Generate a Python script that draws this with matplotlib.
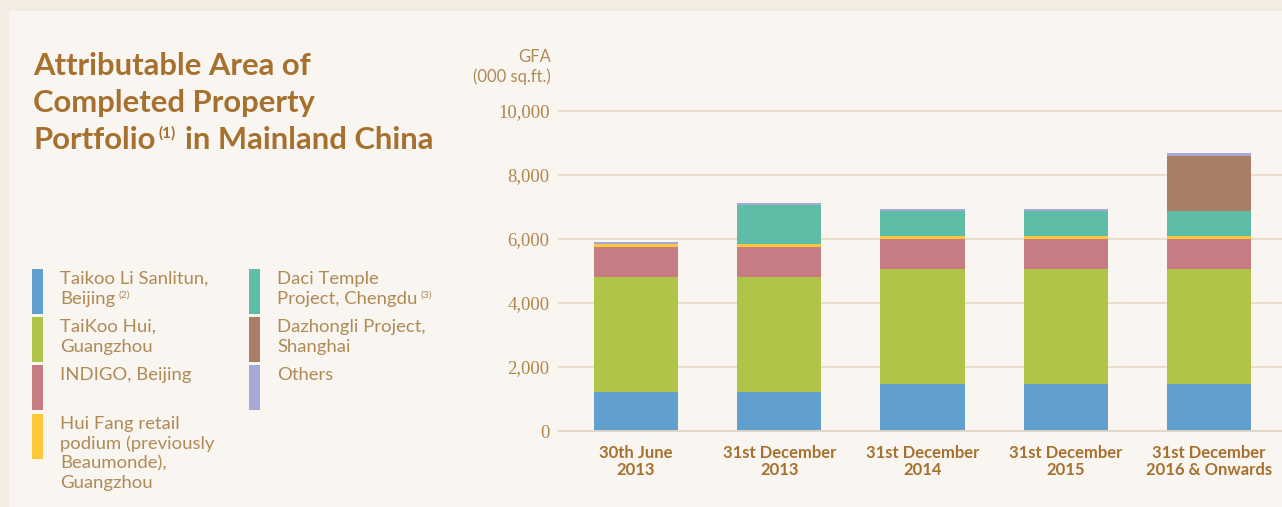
import matplotlib
matplotlib.use("Agg")
import matplotlib.pyplot as plt
from matplotlib.patches import Rectangle

# values in 000 sq.ft.
periods = ["30th June\n2013", "31st December\n2013", "31st December\n2014",
           "31st December\n2015", "31st December\n2016 & Onwards"]
taikoo_li = [1230, 1230, 1470, 1470, 1470]
taikoo_hui = [3580, 3580, 3590, 3590, 3590]
indigo = [940, 940, 940, 940, 940]
hui_fang = [95, 95, 95, 95, 95]
daci_temple = [0, 1220, 780, 780, 780]
dazhongli = [0, 0, 0, 0, 1720]
others = [60, 65, 65, 65, 95]

series_labels = ["Taikoo Li Sanlitun,\nBeijing", "TaiKoo Hui,\nGuangzhou",
                 "INDIGO, Beijing",
                 "Hui Fang retail\npodium (previously\nBeaumonde),\nGuangzhou",
                 "Daci Temple\nProject, Chengdu", "Dazhongli Project,\nShanghai",
                 "Others"]
series_notes = ["(2)", "", "", "", "(3)", "", ""]
y_ticks = [0, 2000, 4000, 6000, 8000, 10000]
y_tick_labels = ["0", "2,000", "4,000", "6,000", "8,000", "10,000"]

colors = ["#619fcf", "#b0c447", "#c67c83", "#fdc93a", "#5fbca7", "#a97e64", "#a4a9d6"]
TITLE_C = "#a6712e"
TEXT_C = "#b08a55"

W, H = 1282, 507


def fx(x):
    return x / W


def fy(y):
    return 1 - y / H


def main():
    fig = plt.figure(figsize=(W / 100, H / 100), dpi=100, facecolor="#f2ece3")
    fig.patches.append(Rectangle((fx(9), 0), 1, fy(11), transform=fig.transFigure,
                                 facecolor="#f9f5f1", edgecolor="none", zorder=-5))
    renderer = fig.canvas.get_renderer()

    # chart area: 0 at y=431px, 10,000 at y=111px
    px_per = 320 / 10000
    bottom_px = 431 + 100 * px_per
    top_px = 111 - 100 * px_per
    ax = fig.add_axes([fx(558), fy(bottom_px), (W - 558) / W, (bottom_px - top_px) / H])
    ax.set_facecolor("none")
    ax.set_ylim(-100, 10100)
    ax.set_xlim(-0.545, 4.51)

    series = [taikoo_li, taikoo_hui, indigo, hui_fang, daci_temple, dazhongli, others]
    x = list(range(len(periods)))
    base = [0] * len(periods)
    for vals, c in zip(series, colors):
        ax.bar(x, vals, bottom=base, width=0.587, color=c, edgecolor="none", zorder=2)
        base = [b + v for b, v in zip(base, vals)]

    ax.set_yticks(y_ticks)
    ax.set_yticklabels(y_tick_labels, fontfamily="Liberation Serif", fontsize=13.5,
                       color="#b3854a")
    ax.yaxis.grid(True, color="#e8dccb", linewidth=1.3)
    ax.set_axisbelow(True)
    ax.axhline(0, color="#e3d6c6", linewidth=1.3, zorder=3)
    ax.set_xticks(x)
    ax.set_xticklabels(periods, fontfamily="Lato", fontweight="bold", fontsize=12,
                       color=TITLE_C, linespacing=1.05)
    ax.tick_params(axis="y", length=0, pad=6)
    ax.tick_params(axis="x", length=0, pad=8)
    for s in ax.spines.values():
        s.set_visible(False)

    fig.text(fx(551), fy(62), "GFA", ha="right", va="baseline", fontfamily="Lato",
             fontsize=12, color=TEXT_C)
    fig.text(fx(551), fy(82), "(000 sq.ft.)", ha="right", va="baseline",
             fontfamily="Lato", fontsize=12, color=TEXT_C)

    # title
    tkw = dict(fontfamily="Lato", fontweight="bold", fontsize=22.3, color=TITLE_C,
               va="baseline")
    fig.text(fx(33), fy(75), "Attributable Area of", **tkw)
    fig.text(fx(33), fy(112), "Completed Property", **tkw)
    t = fig.text(fx(33), fy(149), "Portfolio", **tkw)
    x1 = t.get_window_extent(renderer).x1
    n = fig.text(fx(x1 + 3), fy(138), "(1)", fontfamily="Lato", fontweight="bold",
                 fontsize=11, color=TITLE_C, va="baseline")
    x1 = n.get_window_extent(renderer).x1
    fig.text(fx(x1 + 9), fy(149), "in Mainland China", **tkw)

    # legend
    col_patch = [32, 249]
    col_text = [60, 277]
    row_top = [269, 317, 365, 414]
    for i, (lab, note, c) in enumerate(zip(series_labels, series_notes, colors)):
        col = 0 if i < 4 else 1
        row = i if i < 4 else i - 4
        top = row_top[row]
        fig.patches.append(Rectangle((fx(col_patch[col]), fy(top + 45)), 11 / W, 45 / H,
                                     transform=fig.transFigure, facecolor=c,
                                     edgecolor="none"))
        lines = lab.split("\n")
        for j, line in enumerate(lines):
            base_y = top + 15 + j * 19.6
            lt = fig.text(fx(col_text[col]), fy(base_y), line, fontfamily="Lato",
                          fontsize=13.3, color=TEXT_C, va="baseline")
            if note and j == len(lines) - 1:
                x1 = lt.get_window_extent(renderer).x1
                fig.text(fx(x1 + 3), fy(base_y - 6), note, fontfamily="Lato",
                         fontsize=7.5, color=TEXT_C, va="baseline")

    fig.savefig("out.png", dpi=100, facecolor=fig.get_facecolor())


if __name__ == "__main__":
    main()
